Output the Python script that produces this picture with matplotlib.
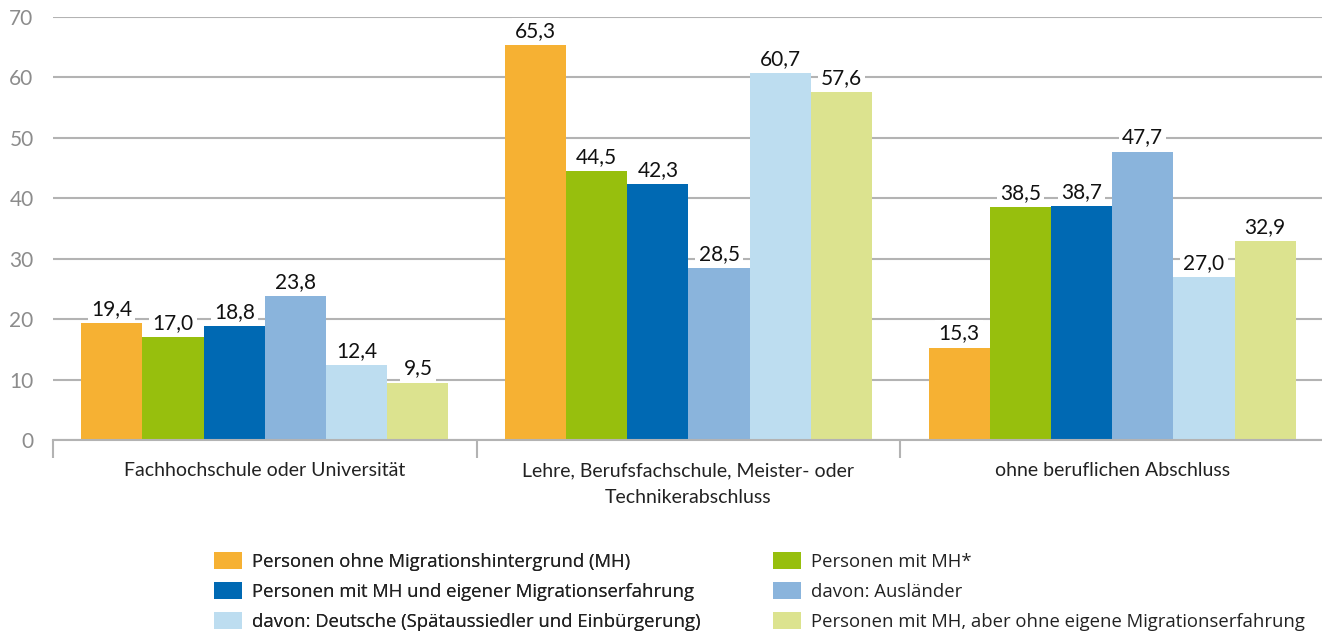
import matplotlib
matplotlib.use("Agg")
import matplotlib.pyplot as plt
from matplotlib.patches import Patch
import numpy as np

plt.rcParams['font.family'] = ['Lato', 'DejaVu Sans']

categories = ["Fachhochschule oder Universität",
              "Lehre, Berufsfachschule, Meister- oder\nTechnikerabschluss",
              "ohne beruflichen Abschluss"]
series_names = ["Personen ohne Migrationshintergrund (MH)",
                "Personen mit MH*",
                "Personen mit MH und eigener Migrationserfahrung",
                "davon: Ausländer",
                "davon: Deutsche (Spätaussiedler und Einbürgerung)",
                "Personen mit MH, aber ohne eigene Migrationserfahrung"]
ohne_mh = [19.4, 65.3, 15.3]
mit_mh = [17.0, 44.5, 38.5]
mit_mh_eigene = [18.8, 42.3, 38.7]
auslaender = [23.8, 28.5, 47.7]
deutsche = [12.4, 60.7, 27.0]
mit_mh_ohne_eigene = [9.5, 57.6, 32.9]
series = [ohne_mh, mit_mh, mit_mh_eigene, auslaender, deutsche, mit_mh_ohne_eigene]
colors = ["#F6B133", "#97BF0D", "#0069B3", "#8AB4DC", "#BDDDF0", "#DCE38F"]

fig = plt.figure(figsize=(13.22, 6.35), dpi=100)
ax = fig.add_axes([53/1322, 1-440/635, 1271/1322, (440-17)/635])

x = np.arange(len(categories))
w = 0.1445
for i, (vals, c) in enumerate(zip(series, colors)):
    pos = x + (i - 2.5) * w
    ax.bar(pos, vals, width=w, color=c, zorder=2, linewidth=0)
    for xp, v in zip(pos, vals):
        ax.annotate(f"{v:.1f}".replace(".", ","), (xp, v), xytext=(0, 3),
                    textcoords="offset points", ha="center", va="bottom",
                    fontsize=15, color="#111111", zorder=4,
                    bbox=dict(boxstyle="square,pad=0.15", fc="white", ec="none"))

ax.set_xlim(-0.5, 2.5)
ax.set_ylim(0, 70)
ax.set_yticks(range(0, 71, 10))
ax.yaxis.grid(True, color="#b3b3b3", linewidth=1.5, zorder=0)
ax.set_axisbelow(True)
for s in ["left", "right", "top"]:
    ax.spines[s].set_visible(False)
ax.spines["bottom"].set_color("#b3b3b3")
ax.spines["bottom"].set_linewidth(1.5)
ax.tick_params(axis="y", length=0, pad=14, labelsize=15, labelcolor="#8c8c8c")
ax.set_xticks(x)
ax.set_xticklabels(categories, fontsize=14, color="#222222", linespacing=1.7)
ax.tick_params(axis="x", which="major", length=0, pad=16)
ax.set_xticks([-0.5, 0.5, 1.5], minor=True)
ax.tick_params(axis="x", which="minor", length=13, width=1.5, color="#b3b3b3")

handles = [Patch(facecolor=c, edgecolor="none") for c in colors]
legend_kw = dict(loc="upper left", frameon=False, borderpad=0, borderaxespad=0,
                 handlelength=1.5, handleheight=1.0, handletextpad=0.55,
                 labelspacing=0.63, labelcolor="#222222",
                 prop=dict(family=['Open Sans', 'DejaVu Sans'], size=13.3))
leg1 = fig.legend([handles[i] for i in (0, 2, 4)], [series_names[i] for i in (0, 2, 4)],
                  bbox_to_anchor=(214/1322, 1-552/635), **legend_kw)
fig.add_artist(leg1)
fig.legend([handles[i] for i in (1, 3, 5)], [series_names[i] for i in (1, 3, 5)],
           bbox_to_anchor=(773/1322, 1-552/635), **legend_kw)

fig.savefig("out.png", dpi=100)
